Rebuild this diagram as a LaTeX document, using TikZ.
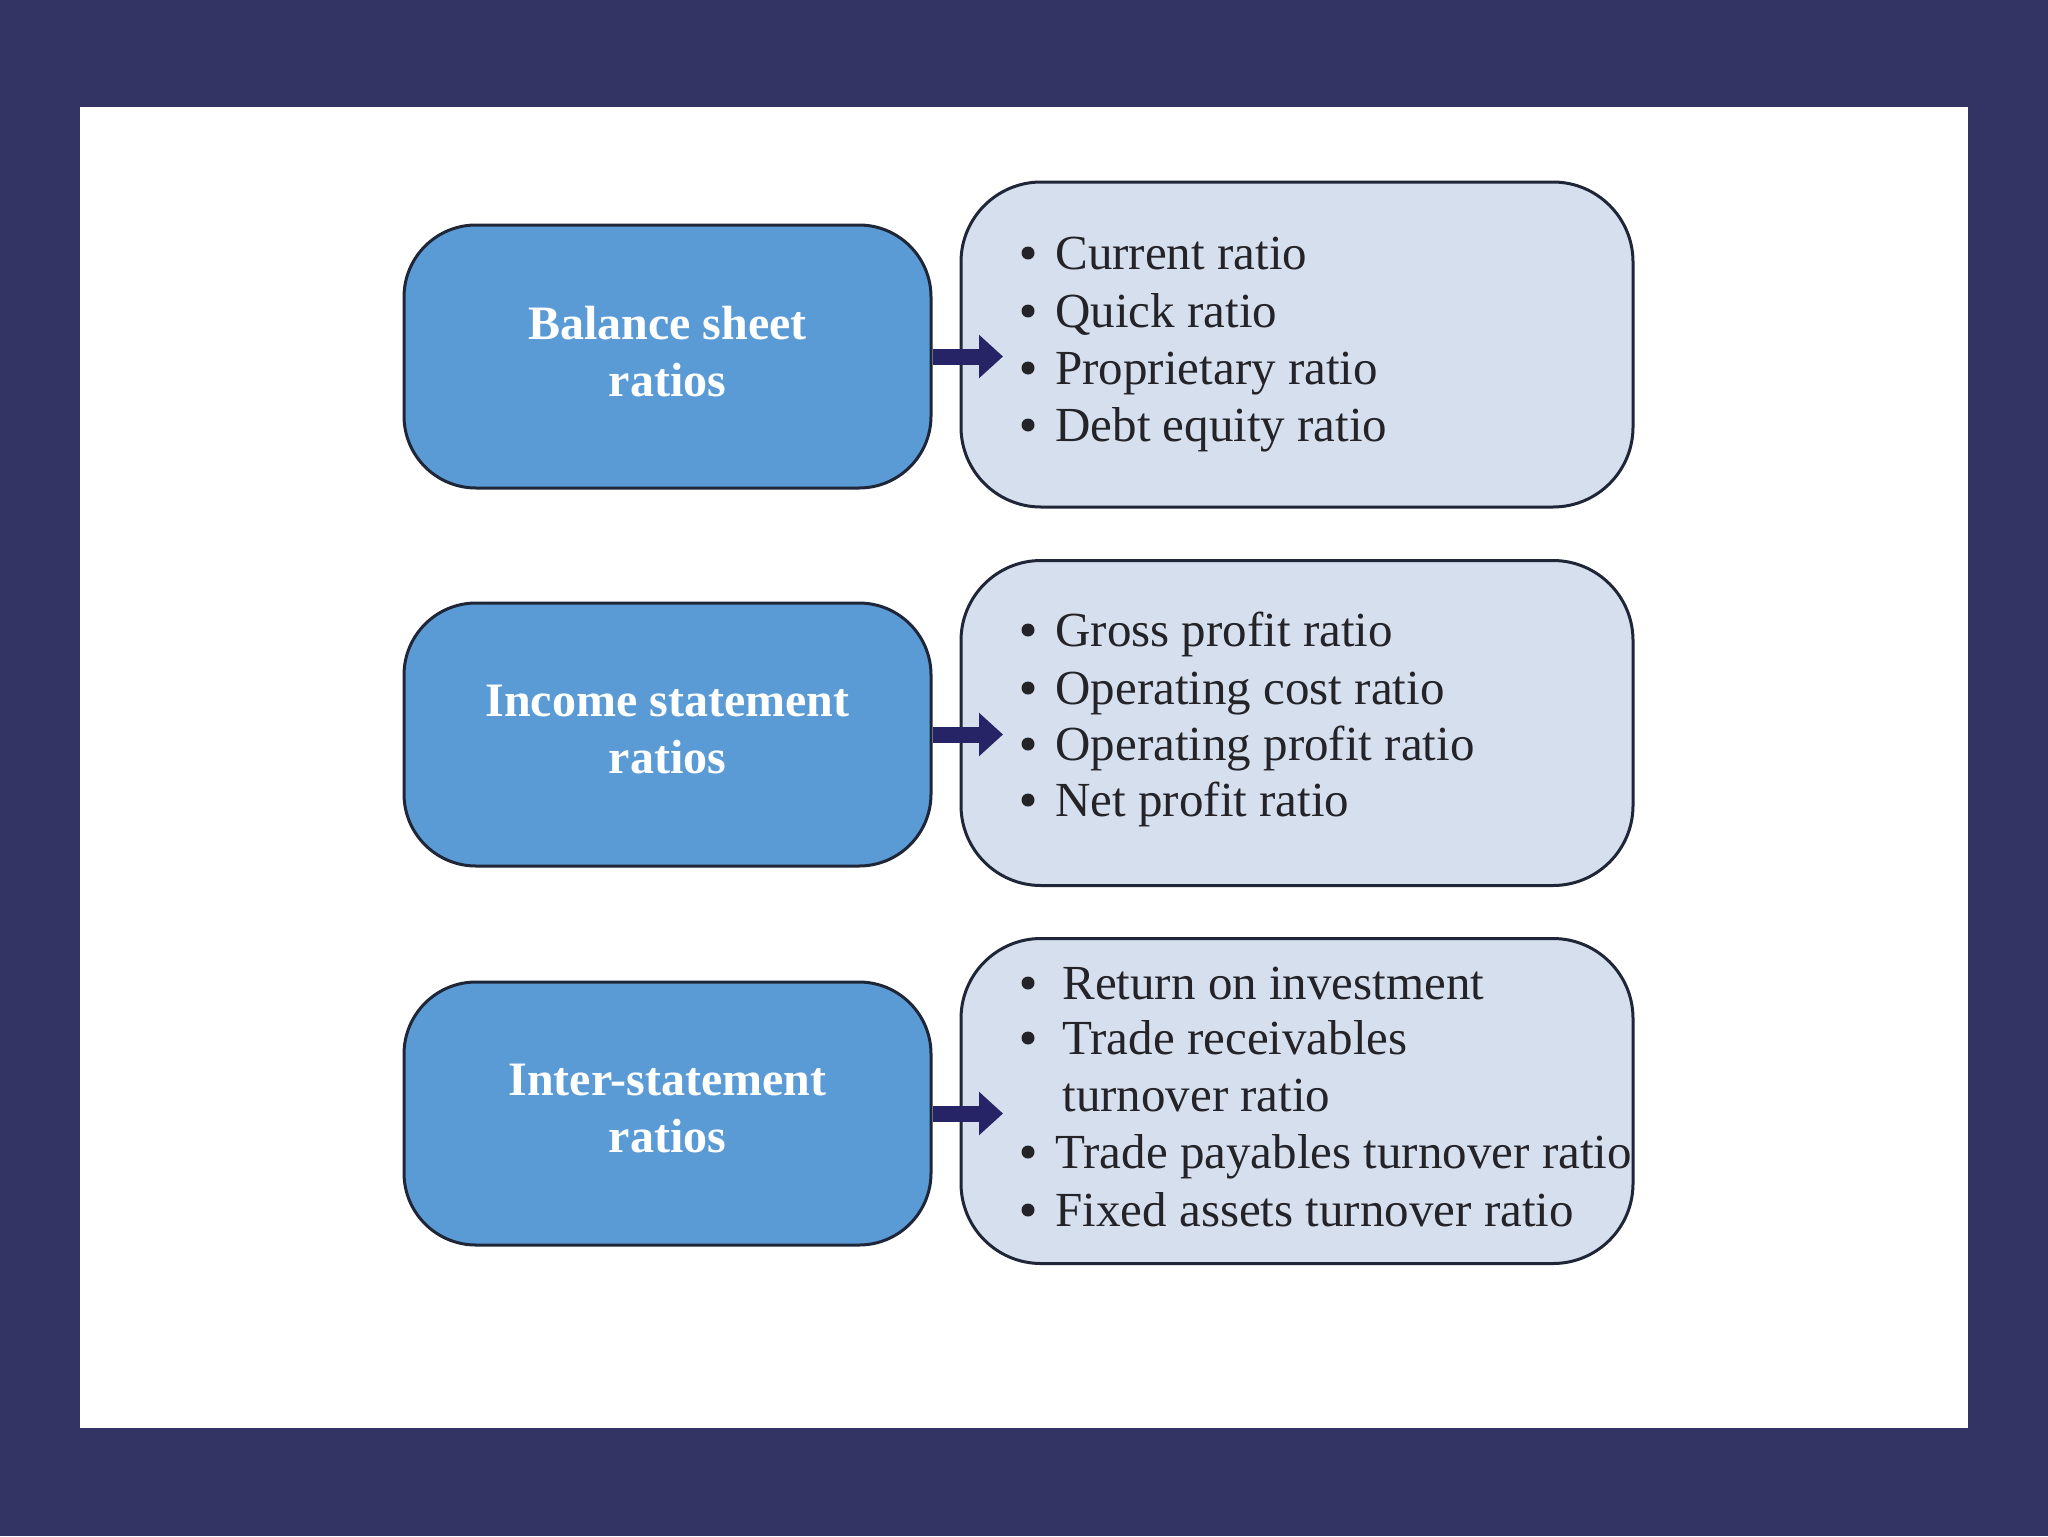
\documentclass[tikz,border=0pt]{standalone}
\usepackage{fontspec}
\setmainfont{Liberation Serif}
\usetikzlibrary{arrows.meta}
\definecolor{navybg}{RGB}{52,52,100}
\definecolor{leftfill}{RGB}{91,155,213}
\definecolor{rightfill}{RGB}{214,223,238}
\definecolor{arrowcol}{RGB}{38,36,102}
\definecolor{bordercol}{RGB}{30,38,56}
\definecolor{textcol}{RGB}{35,35,40}
\tikzset{
  catbox/.style={draw=bordercol, line width=1.5pt, fill=leftfill, rounded corners=36pt,
    minimum width=263.5pt, minimum height=131.5pt, inner sep=0pt},
  catlabel/.style={text=white, align=center, inner sep=0pt,
    font=\fontsize{24}{28.5}\selectfont\bfseries},
  listbox/.style={draw=bordercol, line width=1.5pt, fill=rightfill, rounded corners=40pt,
    minimum width=336pt, minimum height=162.5pt, inner sep=0pt},
  item/.style={anchor=base west, text=textcol, font=\fontsize{24.5}{28.5}\selectfont,
    inner sep=0pt},
  bul/.style={circle, fill=textcol, inner sep=0pt, minimum size=6.5pt},
  flow/.style={draw=arrowcol, line width=8pt, -{Triangle[length=12pt,width=21pt]}},
}
\begin{document}
\begin{tikzpicture}[x=0.5pt,y=-0.5pt]
\fill[navybg] (0,0) rectangle (2048,1536);
\fill[white] (80,107) rectangle (1968,1428);
\useasboundingbox (0,0) rectangle (2048,1536);

% left boxes
\node[catbox] (bs) at (667.5,356.5) {};
\node[catbox] (is) at (667.5,734.5) {};
\node[catbox] (ist) at (667.5,1113.5) {};
\node[catlabel] (bsT) at (667.5,352) {Balance sheet\\ratios};
\node[catlabel] (isT) at (667.5,730) {Income statement\\ratios};
\node[catlabel] (istT) at (667.5,1109) {Inter-statement\\ratios};

% right boxes
\node[listbox] (bsl) at (1297,344.5) {};
\node[listbox] (isl) at (1297,723) {};
\node[listbox] (istl) at (1297,1101) {};

% arrows
\draw[flow] (bs.east) -- (bs.east -| 1003,0);
\draw[flow] (is.east) -- (is.east -| 1003,0);
\draw[flow] (ist.east) -- (ist.east -| 1003,0);

% balance sheet items
\node[bul] (b1) at (1028,253) {};
\node[item] (t1) at (1055,269) {Current ratio};
\node[bul] (b2) at (1028,311) {};
\node[item] (t2) at (1055,327) {Quick ratio};
\node[bul] (b3) at (1028,368) {};
\node[item] (t3) at (1055,384) {Proprietary ratio};
\node[bul] (b4) at (1028,425) {};
\node[item] (t4) at (1055,441) {Debt equity ratio};

% income statement items
\node[bul] (b5) at (1028,630) {};
\node[item] (t5) at (1055,646) {Gross profit ratio};
\node[bul] (b6) at (1028,688) {};
\node[item] (t6) at (1055,704) {Operating cost ratio};
\node[bul] (b7) at (1028,744) {};
\node[item] (t7) at (1055,760) {Operating profit ratio};
\node[bul] (b8) at (1028,800) {};
\node[item] (t8) at (1055,816) {Net profit ratio};

% inter-statement items
\node[bul] (b9) at (1028,983) {};
\node[item] (t9) at (1062,999) {Return on investment};
\node[bul] (b10) at (1028,1038) {};
\node[item] (t10) at (1062,1054) {Trade receivables};
\node[item] (t11) at (1062,1111) {turnover ratio};
\node[bul] (b12) at (1028,1152) {};
\node[item] (t12) at (1055,1168) {Trade payables turnover ratio};
\node[bul] (b13) at (1028,1210) {};
\node[item] (t13) at (1055,1226) {Fixed assets turnover ratio};
\end{tikzpicture}
\end{document}
